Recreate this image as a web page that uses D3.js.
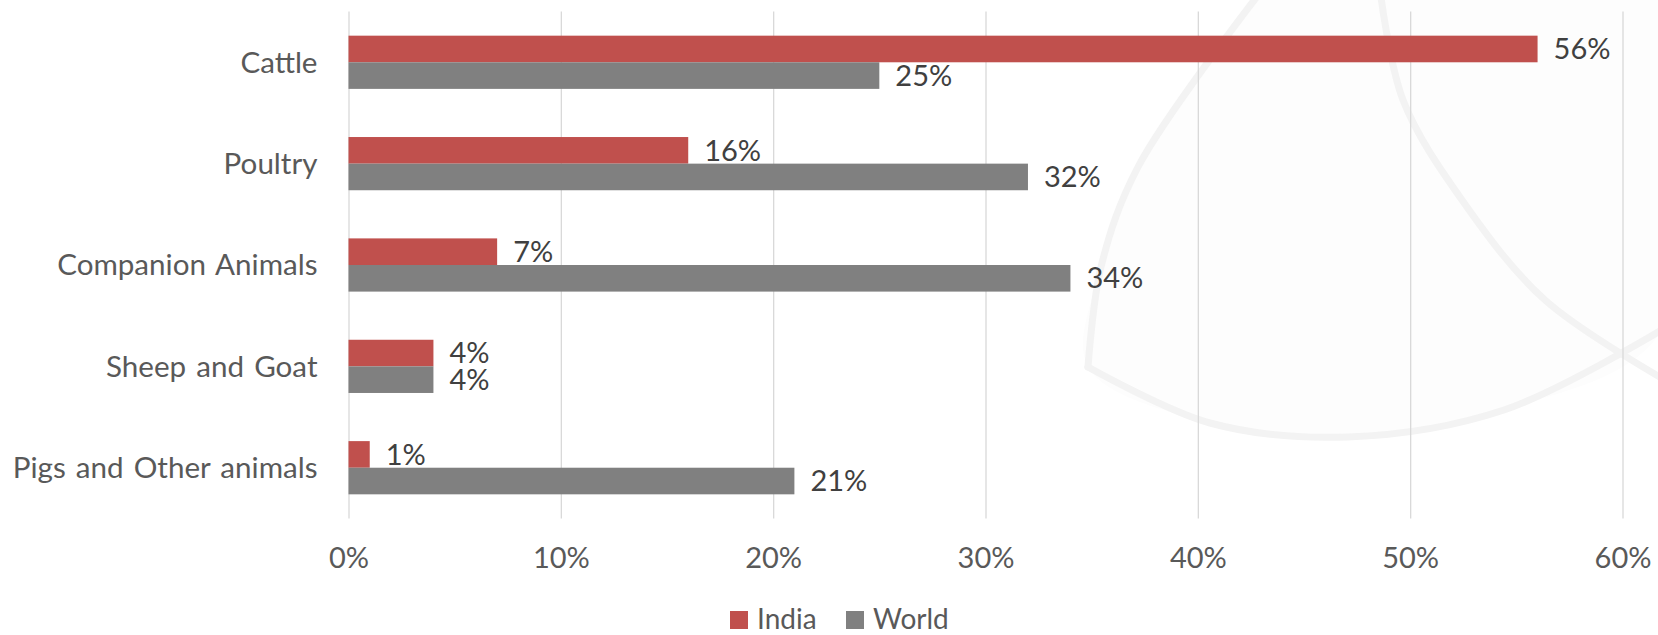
<!DOCTYPE html>
<html>
<head>
<meta charset="utf-8">
<script src="https://cdn.jsdelivr.net/npm/d3@7"></script>
<style>
  html, body { margin: 0; padding: 0; background: #ffffff; }
  svg { display: block; }
  text { font-family: Lato, "Open Sans", sans-serif; }
</style>
</head>
<body>
<svg id="chart" width="1658" height="635"></svg>
<script>
// ---- data ----
const categories = ["Cattle", "Poultry", "Companion Animals", "Sheep and Goat", "Pigs and Other animals"];
const seriesNames = ["India", "World"];
const indiaValues = [0.56, 0.16, 0.07, 0.04, 0.01];
const worldValues = [0.25, 0.32, 0.34, 0.04, 0.21];
const tickValues = [0, 0.1, 0.2, 0.3, 0.4, 0.5, 0.6];
const seriesColors = ["#C0504D", "#808080"];

// ---- layout ----
const plot = { left: 348.5, right: 1622.5, top: 11.6, bottom: 518.4 };
const fontSize = 29;

const svg = d3.select("#chart");

// faint background watermark (decorative)
const wm = svg.append("g").attr("fill", "none").attr("stroke", "#F3F3F3").attr("stroke-width", 7).attr("stroke-linecap", "round");
const wmLine = d3.line().curve(d3.curveCatmullRom.alpha(0.5));
wm.append("path").attr("fill", "#FDFDFD").attr("stroke", "none")
  .attr("d", wmLine([[1256, -5], [1138, 167], [1101, 267], [1088, 367], [1210, 423], [1348, 437], [1504, 410], [1662, 330], [1662, -5]]));
wm.append("path").attr("d", wmLine([[1262, -10], [1138, 167], [1101, 267], [1088, 367]]));
wm.append("path").attr("d", wmLine([[1088, 367], [1210, 423], [1348, 437], [1504, 410], [1665, 328]]));
wm.append("path").attr("d", wmLine([[1380, -10], [1403, 100], [1462, 200], [1545, 300], [1665, 380]]));

const x = d3.scaleLinear().domain([0, 0.6]).range([plot.left, plot.right]);
const y0 = d3.scaleBand().domain(categories).range([plot.top, plot.bottom])
  .paddingInner(0.475).paddingOuter(0.2375);
const y1 = d3.scaleBand().domain(seriesNames).range([0, y0.bandwidth()]);

// gridlines + x tick labels
const xAxis = d3.axisBottom(x).tickValues(tickValues).tickFormat(d3.format(".0%"))
  .tickSize(-(plot.bottom - plot.top)).tickPadding(0);
const gx = svg.append("g").attr("transform", `translate(0,${plot.bottom})`).call(xAxis);
gx.select(".domain").remove();
gx.selectAll(".tick line").attr("stroke", "#D9D9D9").attr("stroke-width", 1.3);
gx.selectAll(".tick text")
  .attr("fill", "#595959").attr("font-size", fontSize)
  .attr("dy", null).attr("y", 50);

// y axis category labels
const yAxis = d3.axisLeft(y0).tickSize(0).tickPadding(31);
const gy = svg.append("g").attr("transform", `translate(${plot.left},0)`).call(yAxis);
gy.select(".domain").remove();
gy.selectAll(".tick text").attr("fill", "#595959").attr("font-size", 29.6)
  .attr("word-spacing", 2.5).attr("dy", "0.35em");

// bars
const rows = categories.map((c, i) => ({ category: c, values: [indiaValues[i], worldValues[i]] }));
const groups = svg.append("g").selectAll("g").data(rows).join("g")
  .attr("transform", d => `translate(0,${y0(d.category)})`);

groups.selectAll("rect").data(d => d.values.map((v, j) => ({ name: seriesNames[j], v, j })))
  .join("rect")
  .attr("x", x(0))
  .attr("y", d => y1(d.name))
  .attr("width", d => x(d.v) - x(0))
  .attr("height", y1.bandwidth())
  .attr("fill", d => seriesColors[d.j]);

groups.selectAll("text.lbl").data(d => d.values.map((v, j) => ({ name: seriesNames[j], v, j })))
  .join("text").attr("class", "lbl")
  .attr("x", d => x(d.v) + 16)
  .attr("y", d => y1(d.name) + y1.bandwidth() / 2)
  .attr("dy", "0.35em")
  .attr("fill", "#404040")
  .attr("font-size", fontSize)
  .text(d => d3.format(".0%")(d.v));

// legend
const legend = svg.append("g").attr("transform", "translate(730,611)");
const legX = [0, 116];
seriesNames.forEach((n, i) => {
  const g = legend.append("g").attr("transform", `translate(${legX[i]},0)`);
  g.append("rect").attr("width", 18).attr("height", 18).attr("fill", seriesColors[i]);
  g.append("text").attr("x", 27).attr("y", 17.5).attr("fill", "#595959").attr("font-size", 28).text(n);
});
</script>
</body>
</html>
